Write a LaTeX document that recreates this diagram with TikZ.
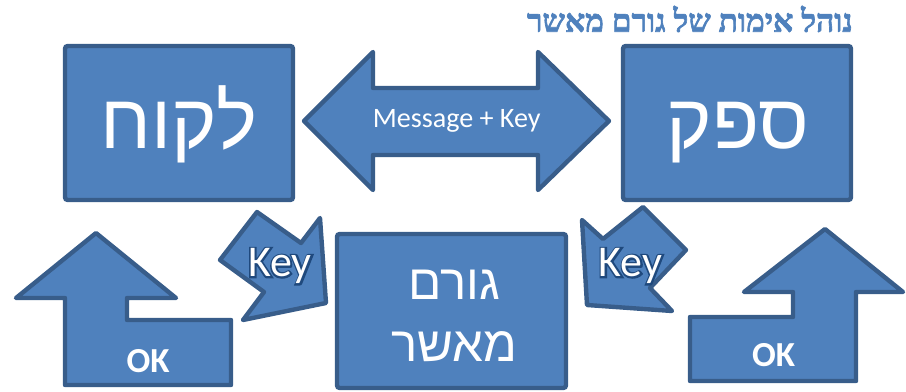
\documentclass[tikz,border=0pt]{standalone}
\usepackage{fontspec}
\setmainfont{Carlito}
\newfontfamily\hebfont[Script=Hebrew]{Liberation Sans}
\newfontfamily\hebtitlefont[Script=Hebrew, BoldFeatures={FakeBold=2}]{Liberation Serif}
\newfontfamily\keyglowfont[FakeBold=8]{Carlito}
\TeXXeTstate=1
\usetikzlibrary{
		positioning
	}
\definecolor{boxfill}{HTML}{4F81BD}
\definecolor{boxline}{HTML}{385D8A}
\definecolor{keyglow}{HTML}{1F497D}
\newcommand{\glowkey}{\rlap{\textcolor{keyglow}{\keyglowfont Key}}\textcolor{white}{Key}}
\tikzset{
		>=stealth,
		box/.style={draw=boxline, fill=boxfill, line width=2.5pt, rounded corners=1.5pt, inner sep=0pt},
		blockarrow/.style={draw=boxline, fill=boxfill, line width=2.5pt, line join=round},
		bigheb/.style={text=white, font=\hebfont\fontsize{44}{48}\selectfont, anchor=base},
		midheb/.style={text=white, font=\hebfont\fontsize{28}{35.7}\selectfont, align=center},
		keytext/.style={font=\fontsize{25}{28}\selectfont, anchor=base},
		oktext/.style={text=white, font=\bfseries\fontsize{20}{24}\selectfont, anchor=base}
	}

\begin{document}
\begin{tikzpicture}[x=0.02cm, y=-0.02cm]
        \useasboundingbox (0,0) rectangle (906,392);

        % the title
        \node[anchor=base east, text=boxfill, font=\hebtitlefont\bfseries\fontsize{18}{21}\selectfont, inner sep=0pt]
            (title) at (853,31.7) {\beginR נוהל אימות של גורם מאשר\endR};

        % the three parties
        \node[box, minimum width=4.56cm, minimum height=3.08cm] (client) at (179,123) {};
        \node[box, minimum width=4.56cm, minimum height=3.08cm] (supplier) at (737,123) {};
        \node[box, minimum width=4.58cm, minimum height=3.08cm] (approver) at (451.5,311) {};

        \node[bigheb] (clientlabel) at (179,148) {\beginR לקוח\endR};
        \node[bigheb] (supplierlabel) at (738,148) {\beginR ספק\endR};
        \node[midheb] (approverlabel) at (454,316) {\beginR גורם\endR\\\beginR מאשר\endR};

        % the message between client and supplier
        \filldraw[blockarrow] (304,121) -- (373,52) -- (373,88) -- (538,88) -- (538,52) -- (609,121)
            -- (538,190) -- (538,155) -- (373,155) -- (373,190) -- cycle;
        \node[text=white, font=\fontsize{16}{19}\selectfont, anchor=base] (message) at (456.7,127.3) {Message + Key};

        % the keys sent to the approver
        \filldraw[blockarrow] (257,212) -- (220,260) -- (264,292) -- (243,320) -- (326,303) -- (320,218) -- (301,243) -- cycle;
        \filldraw[blockarrow] (643,207) -- (686,250) -- (650,288) -- (672,311) -- (587,305) -- (582,220) -- (603,239) -- cycle;
        \node[keytext] (clientkey) at (280,276.7) {\glowkey};
        \node[keytext] (supplierkey) at (630.5,276.7) {\glowkey};

        % the answers of the approver
        \filldraw[blockarrow] (96,233) -- (16,298) -- (65,298) -- (65,385) -- (231,385) -- (231,320)
            -- (127,320) -- (127,298) -- (176,298) -- cycle;
        \filldraw[blockarrow] (825,229) -- (903,292) -- (856,292) -- (856,381) -- (690,381) -- (690,317)
            -- (793,317) -- (793,292) -- (744,292) -- cycle;
        \node[oktext] (clientok) at (148,372) {OK};
        \node[oktext] (supplierok) at (773.7,366.7) {OK};

    \end{tikzpicture}
\end{document}
